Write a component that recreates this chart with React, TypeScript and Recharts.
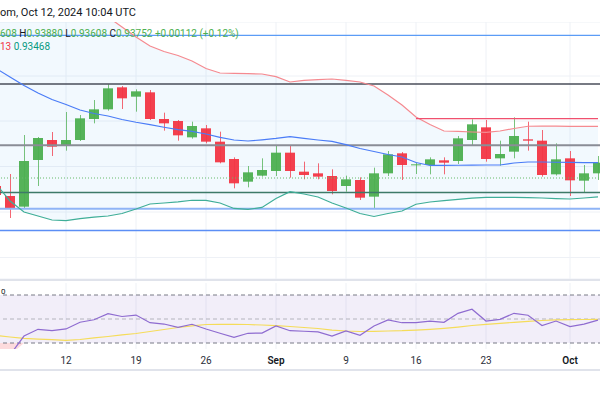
import React from 'react';
import {
  ComposedChart, Bar, Line, Area, XAxis, YAxis, CartesianGrid, ReferenceLine, ReferenceArea,
} from 'recharts';

const dates = [
  'Aug 5', 'Aug 6', 'Aug 7', 'Aug 8', 'Aug 9', 'Aug 12', 'Aug 13', 'Aug 14', 'Aug 15', 'Aug 16',
  'Aug 19', 'Aug 20', 'Aug 21', 'Aug 22', 'Aug 23', 'Aug 26', 'Aug 27', 'Aug 28', 'Aug 29', 'Aug 30',
  'Sep 2', 'Sep 3', 'Sep 4', 'Sep 5', 'Sep 6', 'Sep 9', 'Sep 10', 'Sep 11', 'Sep 12', 'Sep 13',
  'Sep 16', 'Sep 17', 'Sep 18', 'Sep 19', 'Sep 20', 'Sep 23', 'Sep 24', 'Sep 25', 'Sep 26', 'Sep 27',
  'Sep 30', 'Oct 1', 'Oct 2', 'Oct 3',
];

const open = [0.9363, 0.9348, 0.9332, 0.9402, 0.9432, 0.9423, 0.9432, 0.94635, 0.9478, 0.9511, 0.9497, 0.95035, 0.94635, 0.94605, 0.9436, 0.94495, 0.94295, 0.94035, 0.93695, 0.93785, 0.93855, 0.9413, 0.93845, 0.9382, 0.9378, 0.9363, 0.9372, 0.9347, 0.9382, 0.9412, 0.93945, 0.93945, 0.94015, 0.94005, 0.9432, 0.9451, 0.94045, 0.94145, 0.9433, 0.9431, 0.93805, 0.94045, 0.9371, 0.9382];
const high = [0.93675, 0.9381, 0.94395, 0.94365, 0.9444, 0.9474, 0.94695, 0.9492, 0.95155, 0.9513, 0.9508, 0.9507, 0.9473, 0.9462, 0.94595, 0.94545, 0.94445, 0.9406, 0.9393, 0.94045, 0.9423, 0.9423, 0.93995, 0.9397, 0.9388, 0.93785, 0.9376, 0.93905, 0.94155, 0.9414, 0.93985, 0.9406, 0.9406, 0.9438, 0.9463, 0.9462, 0.9431, 0.9466, 0.94595, 0.9447, 0.9427, 0.94155, 0.93945, 0.9408];
const low = [0.9342, 0.9315, 0.933, 0.9363, 0.9408, 0.9416, 0.94305, 0.9457, 0.9476, 0.94785, 0.94745, 0.9462, 0.9446, 0.9431, 0.9434, 0.9427, 0.9397, 0.93595, 0.9361, 0.9377, 0.9378, 0.93755, 0.9373, 0.9373, 0.93505, 0.93545, 0.9342, 0.93285, 0.9378, 0.9372, 0.9381, 0.93805, 0.93805, 0.9396, 0.9423, 0.93995, 0.93935, 0.94045, 0.9416, 0.9377, 0.93787, 0.9348, 0.9354, 0.9372];
const close = [0.93495, 0.93285, 0.94005, 0.9435, 0.9422, 0.9432, 0.94645, 0.9478, 0.95095, 0.94945, 0.9505, 0.94635, 0.9457, 0.9439, 0.9453, 0.94295, 0.93985, 0.9367, 0.93835, 0.9387, 0.9413, 0.93855, 0.93795, 0.9377, 0.93555, 0.9373, 0.93455, 0.9382, 0.94105, 0.93945, 0.93955, 0.9403, 0.9398, 0.94345, 0.94555, 0.94035, 0.9411, 0.9438, 0.9431, 0.93795, 0.9403, 0.93715, 0.9382, 0.9398];

const bbUpper = [0.9732, 0.97095, 0.969, 0.9672, 0.9657, 0.9645, 0.96345, 0.96255, 0.96165, 0.96015, 0.95865, 0.9573, 0.95648, 0.95588, 0.95505, 0.95393, 0.95325, 0.95318, 0.95315, 0.9531, 0.9527, 0.9519, 0.95213, 0.95225, 0.95235, 0.95213, 0.9519, 0.9513, 0.94995, 0.94845, 0.94665, 0.94553, 0.94455, 0.94448, 0.9444, 0.94433, 0.94455, 0.94493, 0.94526, 0.9453, 0.94527, 0.94524, 0.94523, 0.94523];
const bbBasis = [0.95393, 0.95265, 0.95138, 0.95025, 0.94928, 0.94853, 0.9477, 0.94718, 0.9468, 0.94628, 0.94586, 0.9455, 0.94511, 0.94475, 0.94448, 0.9441, 0.9436, 0.9432, 0.94305, 0.94323, 0.94343, 0.9437, 0.94343, 0.9432, 0.94298, 0.9425, 0.94193, 0.94148, 0.94103, 0.94065, 0.93983, 0.93938, 0.93938, 0.93941, 0.93942, 0.93945, 0.93945, 0.93975, 0.9399, 0.9399, 0.93986, 0.93983, 0.9398, 0.9398];
const bbLower = [0.9366, 0.93405, 0.9324, 0.9318, 0.9312, 0.9311, 0.9314, 0.93162, 0.9318, 0.93218, 0.93285, 0.9336, 0.93375, 0.93393, 0.93416, 0.93413, 0.93375, 0.93293, 0.9328, 0.93308, 0.93443, 0.93545, 0.9351, 0.93465, 0.93375, 0.933, 0.93218, 0.93173, 0.93218, 0.93255, 0.93356, 0.9339, 0.9341, 0.9343, 0.93447, 0.93458, 0.9346, 0.93458, 0.93455, 0.9345, 0.93441, 0.93435, 0.9345, 0.93468];

const rsi = [24, 20, 35.8, 41.4, 40.3, 41.7, 47.3, 49.4, 54.4, 52.1, 53.3, 46.9, 45.8, 43.1, 45.6, 41.7, 38.1, 34.75, 38.1, 38.3, 44.2, 40.25, 39.8, 39.2, 35.8, 40, 36.4, 44.2, 49.2, 46.9, 46.9, 48.3, 47.25, 54.75, 58.1, 48.3, 49.75, 54.75, 53.1, 44.6, 48.3, 43.6, 45.8, 49];
const rsiMa = [36.25, 35, 33.9, 33.3, 32.75, 32.25, 32.9, 34.2, 35.4, 36.7, 37.9, 39.6, 41.25, 42.9, 44.2, 45.4, 45.6, 45.6, 45.4, 45, 44.4, 43.75, 42.9, 42.1, 40.8, 40, 39.6, 39.75, 40, 40.25, 40.8, 41.4, 42.25, 43.3, 44.6, 45.6, 46.4, 47.25, 48.1, 48.75, 49.2, 49.4, 49.6, 49.75];

const tickDates = ['Aug 12', 'Aug 19', 'Aug 26', 'Sep 2', 'Sep 9', 'Sep 16', 'Sep 23', 'Oct 1'];
const tickLabels = ['12', '19', '26', 'Sep', '9', '16', '23', 'Oct'];
const monthLabels = ['Sep', 'Oct'];

const priceGrid = [0.9607, 0.9528, 0.94605, 0.93923, 0.9324, 0.92558];
const priceDomain = [0.92235, 0.9609];
const levelPrices = [0.95888, 0.9516, 0.9424, 0.9375, 0.93533, 0.9329, 0.92963];
const resistanceLevel = 0.9464;
const resistanceFrom = 'Sep 16';

const rsiDomain = [25, 80];
const rsiBands = [70, 50, 30];

const titleText = 'om, Oct 12, 2024 10:04 UTC';
const ohlcOpenTail = '608';
const ohlcHigh = '0.93880';
const ohlcLow = '0.93608';
const ohlcClose = '0.93752';
const ohlcChange = '+0.00112 (+0.12%)';
const bbUpperTail = '13';
const bbLowerValue = '0.93468';
const rsiLegendTail = '0';

const resIdx = dates.indexOf(resistanceFrom);
const rows = dates.map((date, i) => ({
  date,
  o: open[i], h: high[i], l: low[i], c: close[i],
  range: [low[i], high[i]],
  band: [bbLower[i], bbUpper[i]],
  upper: bbUpper[i], basis: bbBasis[i], lower: bbLower[i],
  res: i >= resIdx ? resistanceLevel : null,
  rsi: rsi[i], ma: rsiMa[i],
  os: [Math.min(rsi[i], rsiBands[2]), rsiBands[2]],
}));

const FONT = 'Roboto, "Liberation Sans", sans-serif';
const UP = '#4caf50';
const DOWN = '#f23645';

const Candle = (props: any) => {
  const { x, y, width, height, payload } = props;
  if (!payload || x == null) return null;
  const { o, h, l, c } = payload;
  const top = Math.min(y, y + height);
  const hh = Math.abs(height);
  const toY = (v: number) => (h === l ? top : top + ((h - v) / (h - l)) * hh);
  const color = c >= o ? UP : DOWN;
  const cx = Math.round(x + width / 2) + 0.5;
  const bt = toY(Math.max(o, c));
  const bb = toY(Math.min(o, c));
  return (
    <g>
      <line x1={cx} x2={cx} y1={top} y2={top + hh} stroke={color} strokeOpacity={0.75} strokeWidth={1} />
      <rect x={x} y={bt} width={width} height={Math.max(1, bb - bt)} fill={color} fillOpacity={0.95} />
    </g>
  );
};

const DateTick = (props: any) => {
  const { x, y, payload } = props;
  const idx = tickDates.indexOf(payload.value);
  const label = idx >= 0 ? tickLabels[idx] : '';
  const isMonth = monthLabels.includes(label);
  return (
    <text x={x} y={y + 13} textAnchor="middle" fontSize={10} fontFamily={FONT}
      fill={isMonth ? '#131722' : '#2a2e39'} fontWeight={isMonth ? 600 : 400}>
      {label}
    </text>
  );
};

const levelStyles = [
  { stroke: '#5b9cf6', width: 1.2, dash: undefined },
  { stroke: '#4a4e5a', width: 1.5, dash: undefined },
  { stroke: '#8a8d96', width: 2, dash: undefined },
  { stroke: '#66bb6a', width: 1, dash: '1 2' },
  { stroke: '#3d7a68', width: 1.5, dash: undefined },
  { stroke: '#8fb4f6', width: 2, dash: undefined },
  { stroke: '#5b8ef5', width: 1.5, dash: undefined },
];

export default function App() {
  return (
    <div style={{ position: 'absolute', left: 0, top: 0, width: 600, height: 400, overflow: 'hidden', background: '#ffffff' }}>
      <div style={{ position: 'absolute', left: -11, top: 22 }}>
        <ComposedChart width={616} height={257} data={rows} margin={{ top: 0, right: 0, bottom: 0, left: 0 }}>
          <XAxis dataKey="date" hide ticks={tickDates} interval={0} />
          <YAxis hide domain={priceDomain} allowDataOverflow ticks={priceGrid} />
          <CartesianGrid stroke="#eef1f6" />
          <Area dataKey="band" type="linear" fill="#2196f3" fillOpacity={0.06} stroke="none" isAnimationActive={false} />
          {levelPrices.map((p, i) => (
            <ReferenceLine key={i} y={p} stroke={levelStyles[i].stroke} strokeWidth={levelStyles[i].width}
              strokeDasharray={levelStyles[i].dash} />
          ))}
          <Line dataKey="upper" type="linear" stroke="#f58a90" strokeWidth={1.2} dot={false} isAnimationActive={false} />
          <Line dataKey="basis" type="linear" stroke="#4a7cf7" strokeWidth={1.2} dot={false} isAnimationActive={false} />
          <Line dataKey="lower" type="linear" stroke="#3fae98" strokeWidth={1.2} dot={false} isAnimationActive={false} />
          <Line dataKey="res" type="linear" stroke="#f0506e" strokeWidth={1.2} dot={false} connectNulls={false} isAnimationActive={false} />
          <Bar dataKey="range" barSize={10} shape={(p: any) => <Candle {...p} />} isAnimationActive={false} />
        </ComposedChart>
      </div>

      <div style={{ position: 'absolute', left: -11, top: 283 }}>
        <ComposedChart width={616} height={87} data={rows} margin={{ top: 0, right: 0, bottom: 0, left: 0 }}>
          <XAxis dataKey="date" scale="band" ticks={tickDates} interval={0} height={21} axisLine={false}
            tickLine={false} tickSize={0} tick={<DateTick />} />
          <YAxis hide domain={rsiDomain} allowDataOverflow />
          <CartesianGrid horizontal={false} stroke="#eef1f6" />
          <ReferenceArea y1={rsiBands[2]} y2={rsiBands[0]} fill="#7e57c2" fillOpacity={0.1} stroke="none" />
          <ReferenceLine y={rsiBands[0]} stroke="#787b86" strokeDasharray="4 3" />
          <ReferenceLine y={rsiBands[1]} stroke="#787b86" strokeOpacity={0.5} strokeDasharray="4 3" />
          <ReferenceLine y={rsiBands[2]} stroke="#787b86" strokeDasharray="4 3" />
          <Area dataKey="os" type="linear" fill="#f23645" fillOpacity={0.18} stroke="none" isAnimationActive={false} />
          <Line dataKey="ma" type="linear" stroke="#f5dc5a" strokeWidth={1.2} dot={false} isAnimationActive={false} />
          <Line dataKey="rsi" type="linear" stroke="#8e6bd0" strokeWidth={1.2} dot={false} isAnimationActive={false} />
        </ComposedChart>
      </div>

      <svg width={600} height={400} style={{ position: 'absolute', left: 0, top: 0, pointerEvents: 'none' }}>
        <line x1={0} x2={600} y1={280} y2={280} stroke="#e0e3eb" strokeWidth={2} />
        <line x1={0} x2={600} y1={370} y2={370} stroke="#e0e3eb" strokeWidth={2} />
        <text x={0} y={16} fontSize={11} fontFamily={FONT} fill="#131722">{titleText}</text>
        <text x={0} y={37} fontSize={10} fontFamily={FONT} xmlSpace="preserve">
          <tspan fill={UP}>{ohlcOpenTail}</tspan>
          <tspan fill="#131722"> H</tspan><tspan fill={UP}>{ohlcHigh}</tspan>
          <tspan fill="#131722"> L</tspan><tspan fill={UP}>{ohlcLow}</tspan>
          <tspan fill="#131722"> C</tspan><tspan fill={UP}>{ohlcClose}</tspan>
          <tspan fill={UP}> {ohlcChange}</tspan>
        </text>
        <text x={0} y={50} fontSize={10} fontFamily={FONT}>
          <tspan fill={DOWN}>{bbUpperTail}</tspan>
          <tspan fill="#089981"> {bbLowerValue}</tspan>
        </text>
        <text x={1} y={294} fontSize={8} fontFamily={FONT} fill="#131722">{rsiLegendTail}</text>
      </svg>
    </div>
  );
}
